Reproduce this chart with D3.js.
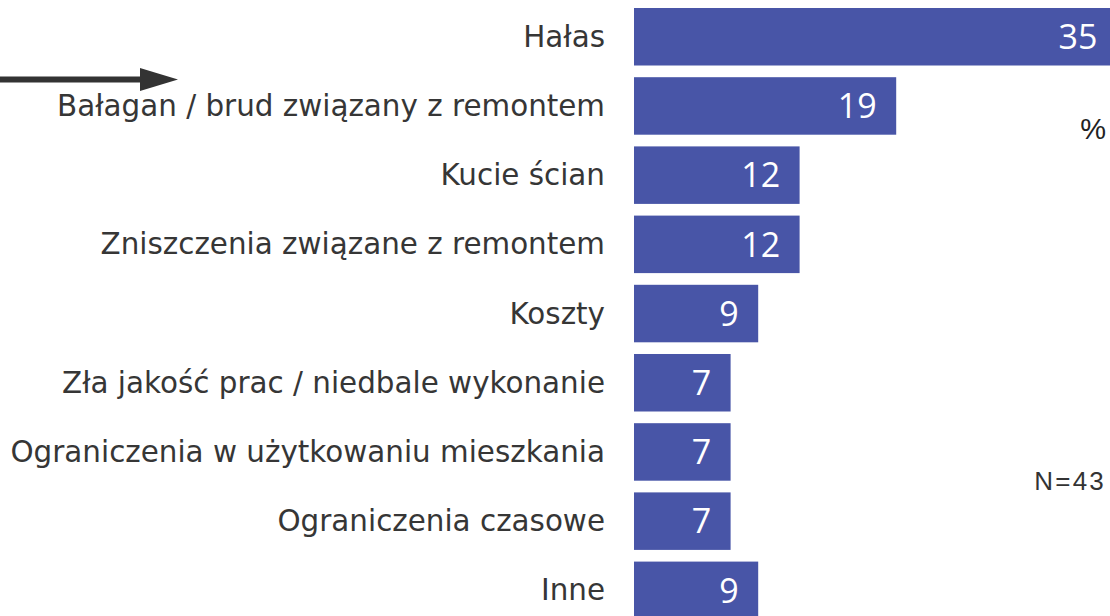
<!DOCTYPE html>
<html>
<head>
<meta charset="utf-8">
<script src="https://cdn.jsdelivr.net/npm/d3@7"></script>
<style>
  html, body { margin: 0; padding: 0; background: #fff; overflow: hidden; }
  svg { display: block; }
</style>
</head>
<body>
<svg id="chart" width="1110" height="616"></svg>
<script>
const categories = [
  "Hałas",
  "Bałagan / brud związany z remontem",
  "Kucie ścian",
  "Zniszczenia związane z remontem",
  "Koszty",
  "Zła jakość prac / niedbale wykonanie",
  "Ograniczenia w użytkowaniu mieszkania",
  "Ograniczenia czasowe",
  "Inne"
];
const values = [35, 19, 12, 12, 9, 7, 7, 7, 9];
const unitLabel = "%";
const sampleLabel = "N=43";

const svg = d3.select("#chart");
const left = 634;

const x = d3.scaleLinear().domain([0, 35]).range([left, left + 483]);
const y = d3.scaleBand().domain(categories).range([8, 619.1]).paddingInner(0.169).paddingOuter(0);

svg.append("g").selectAll("rect")
  .data(categories)
  .join("rect")
  .attr("x", x(0))
  .attr("y", d => y(d))
  .attr("width", (d, i) => x(values[i]) - x(0))
  .attr("height", y.bandwidth())
  .attr("fill", "#4855a7");

svg.append("g").selectAll("text")
  .data(categories)
  .join("text")
  .attr("x", 605)
  .attr("y", d => y(d) + y.bandwidth() / 2)
  .attr("dy", "0.34em")
  .attr("text-anchor", "end")
  .attr("font-family", "DejaVu Sans, Verdana, sans-serif")
  .attr("font-size", 29.4)
  .attr("fill", "#363636")
  .text(d => d);

svg.append("g").selectAll("text")
  .data(categories)
  .join("text")
  .attr("x", (d, i) => x(values[i]) - 19.5)
  .attr("y", d => y(d) + y.bandwidth() / 2)
  .attr("dy", "0.36em")
  .attr("text-anchor", "end")
  .attr("font-family", "'Open Sans', Lato, sans-serif")
  .attr("font-weight", 400)
  .attr("font-size", 34)
  .attr("fill", "#fff")
  .text((d, i) => values[i]);

svg.append("text")
  .attr("x", 1106).attr("y", 139)
  .attr("text-anchor", "end")
  .attr("font-family", "Liberation Sans, Arial, sans-serif")
  .attr("font-size", 29)
  .attr("fill", "#222")
  .text(unitLabel);

svg.append("text")
  .attr("x", 1106).attr("y", 490)
  .attr("text-anchor", "end")
  .attr("font-family", "Liberation Sans, Arial, sans-serif")
  .attr("font-size", 26)
  .attr("letter-spacing", 2.2)
  .attr("fill", "#333")
  .text(sampleLabel);

// arrow
svg.append("line")
  .attr("x1", 0).attr("y1", 79.5).attr("x2", 142).attr("y2", 79.5)
  .attr("stroke", "#333").attr("stroke-width", 6);
svg.append("path")
  .attr("d", d3.line()([[140, 68], [178, 79.5], [140, 91]]) + "Z")
  .attr("fill", "#333");
</script>
</body>
</html>
